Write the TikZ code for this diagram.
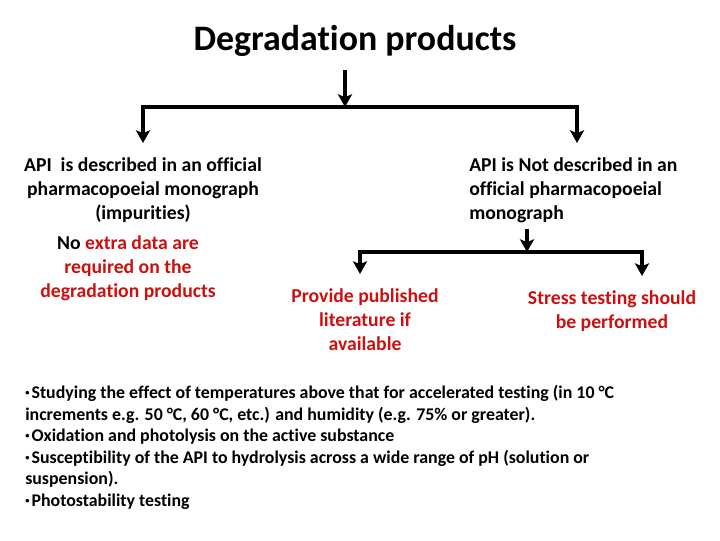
\documentclass[tikz,border=0pt]{standalone}
\usepackage{fontspec}
\setmainfont{Carlito}[Ligatures=NoCommon]
\usepackage{xcolor}
\usetikzlibrary{arrows.meta}
\usetikzlibrary{positioning}
\definecolor{darkred}{RGB}{204,16,16}
\newcommand{\bul}{{\fontsize{6}{6}\selectfont\raisebox{2pt}{•}}\hspace{1.5pt}}

\begin{document}
\begin{tikzpicture}[x=0.025cm, y=-0.025cm,
  arr/.style={-{Stealth[length=9pt, width=10pt, inset=2pt]}, line width=2.2pt},
  bar/.style={line width=2.2pt, line cap=rect},
  txt/.style={font=\bfseries\fontsize{14}{17}\selectfont, inner xsep=0pt, inner ysep=10.5pt, align=center}]
\useasboundingbox (0,0) rectangle (720,540);

% Nodes
\node[font=\bfseries\fontsize{25.5}{30}\selectfont, anchor=base] at (355,50) (title) {Degradation products};
\coordinate (top) at (345,70);
\coordinate (hub) at (345,107);
\coordinate (lbar) at (143,107);
\coordinate (rbar) at (577,107);
\node[txt, anchor=north] at (143,143) (desc) {API\ \ is described in an official\\ pharmacopoeial monograph\\ (impurities)};
\node[txt, anchor=north, text=darkred] at (128,221) (nodata) {\textcolor{black}{No} extra data are\\ required on the\\ degradation products};
\node[txt, anchor=north west, align=left] at (469,143) (notdesc) {API is Not described in an\\ official pharmacopoeial\\ monograph};
\coordinate (hub2) at (527,252);
\coordinate (lbar2) at (360,252);
\coordinate (rbar2) at (642,252);
\node[txt, anchor=north, text=darkred] at (365,274) (lit) {Provide published\\ literature if\\ available};
\node[txt, anchor=north, text=darkred] at (612,276) (stress) {Stress testing should\\ be performed};
\node[font=\bfseries\fontsize{12.7}{15.3}\selectfont, anchor=north west, align=left, inner sep=0pt] at (25,385) (tests) {%
\bul Studying the effect of temperatures above that for accelerated testing (in 10 °C\\
increments e.g. 50 °C, 60 °C, etc.) and humidity (e.g. 75\% or greater).\\
\bul Oxidation and photolysis on the active substance\\
\bul Susceptibility of the API to hydrolysis across a wide range of pH (solution or\\
suspension).\\
\bul Photostability testing};

% Lines
\draw[arr] (top) -- (hub);
\draw[bar] (lbar) -- (rbar);
\draw[arr] (lbar) -- (lbar |- desc.north);
\draw[arr] (rbar) -- (rbar |- notdesc.north);
\draw[arr] ([yshift=6.5pt]notdesc.south -| hub2) -- (hub2);
\draw[bar] (lbar2) -- (rbar2);
\draw[arr] (lbar2) -- (lbar2 |- lit.north);
\draw[arr] (rbar2) -- (rbar2 |- stress.north);

\end{tikzpicture}
\end{document}
